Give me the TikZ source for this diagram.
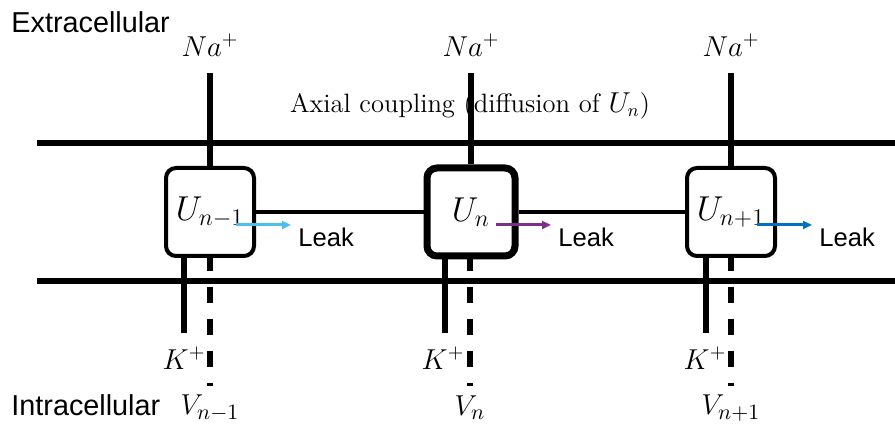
\documentclass[tikz,border=0pt]{standalone}
\usepackage{fontspec}
\setsansfont{Liberation Sans}
\usetikzlibrary{arrows.meta}
\definecolor{leakA}{HTML}{4DBEEE}
\definecolor{leakB}{HTML}{7E2F8E}
\definecolor{leakC}{HTML}{0072BD}
\tikzset{
  unit/.style={draw, fill=white, rounded corners=5pt, line width=2pt, minimum width=44pt, minimum height=44pt, inner sep=0pt, font=\fontsize{17}{20}\selectfont},
  unitbold/.style={unit, line width=3.5pt},
  membrane/.style={line width=3pt},
  channel/.style={line width=2.6pt},
  potline/.style={line width=2.6pt, dash pattern=on 8pt off 8pt},
  coupling/.style={line width=1.7pt},
  leakarrow/.style={line width=1.5pt, -{Triangle[length=4.5pt,width=4pt]}},
  ion/.style={font=\fontsize{14}{16}\selectfont, inner sep=0pt},
  volt/.style={font=\fontsize{15.5}{18}\selectfont, inner sep=0pt},
  leaktext/.style={font=\sffamily\fontsize{12.8}{14}\selectfont, anchor=west, inner sep=0pt},
  side/.style={font=\sffamily\fontsize{14.4}{16}\selectfont, anchor=west, inner sep=0pt}
}
\begin{document}
\begin{tikzpicture}[x=0.5pt,y=-0.5pt]
\useasboundingbox (0,0) rectangle (895,427);
% labels
\node[side] (ext) at (11,22) {Extracellular};
\node[side] (int) at (11,405) {Intracellular};
\node[font=\fontsize{13.3}{15}\selectfont, inner sep=0pt] (axial) at (470,106) {Axial coupling (diffusion of $U_n$)};
% membranes
\coordinate (mtl) at (37,143); \coordinate (mtr) at (895,143);
\coordinate (mbl) at (37,281); \coordinate (mbr) at (895,281);
\draw[membrane] (mtl) -- (mtr);
\draw[membrane] (mbl) -- (mbr);
% units
\node[unit] (b1) at (210,212) {$U_{n-1}$};
\node[unitbold] (b2) at (471,212) {$U_{n}$};
\node[unit] (b3) at (731,212) {$U_{n+1}$};
\draw[coupling] (b1.east) -- (b2.west);
\draw[coupling] (b2.east) -- (b3.west);
% Na channels
\node[ion] (na1) at (210,45) {$Na^{+}$};
\node[ion] (na2) at (471,45) {$Na^{+}$};
\node[ion] (na3) at (731,45) {$Na^{+}$};
\coordinate (nt1) at (210,73); \coordinate (nt2) at (471,73); \coordinate (nt3) at (731,73);
\draw[channel] (nt1) -- (b1.north);
\draw[channel] (nt2) -- (b2.north);
\draw[channel] (nt3) -- (b3.north);
% K channels
\node[ion] (k1) at (184,358) {$K^{+}$};
\node[ion] (k2) at (443,358) {$K^{+}$};
\node[ion] (k3) at (705,358) {$K^{+}$};
\coordinate (ks1) at (184,256); \coordinate (ke1) at (184,333);
\coordinate (ks2) at (445,256); \coordinate (ke2) at (445,333);
\coordinate (ks3) at (706,256); \coordinate (ke3) at (706,333);
\draw[channel] (ks1) -- (ke1);
\draw[channel] (ks2) -- (ke2);
\draw[channel] (ks3) -- (ke3);
% potentials
\node[volt] (v1) at (210,408) {$V_{n-1}$};
\node[volt] (v2) at (470,408) {$V_{n}$};
\node[volt] (v3) at (731,408) {$V_{n+1}$};
\coordinate (vs1) at (210,255); \coordinate (ve1) at (210,386);
\coordinate (vs2) at (470,255); \coordinate (ve2) at (470,386);
\coordinate (vs3) at (731,255); \coordinate (ve3) at (731,386);
\draw[potline] (vs1) -- (ve1);
\draw[potline] (vs2) -- (ve2);
\draw[potline] (vs3) -- (ve3);
% leaks
\coordinate (la1) at (236,225); \coordinate (lb1) at (291,225);
\coordinate (la2) at (496,225); \coordinate (lb2) at (551,225);
\coordinate (la3) at (757,225); \coordinate (lb3) at (812,225);
\draw[leakarrow, leakA] (la1) -- (lb1);
\draw[leakarrow, leakB] (la2) -- (lb2);
\draw[leakarrow, leakC] (la3) -- (lb3);
\node[leaktext] (l1) at (298,237) {Leak};
\node[leaktext] (l2) at (558,237) {Leak};
\node[leaktext] (l3) at (819,237) {Leak};
\end{tikzpicture}
\end{document}
